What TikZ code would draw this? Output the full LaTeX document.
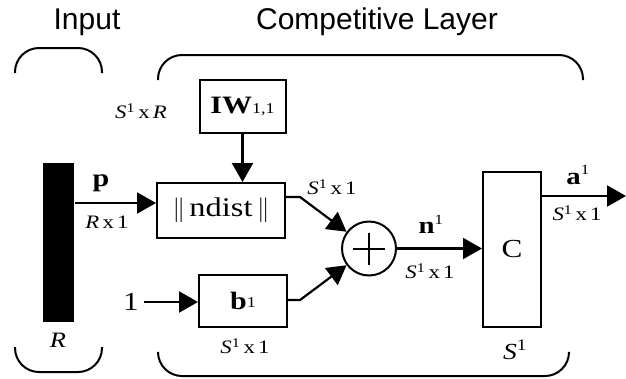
\documentclass[tikz,border=0pt]{standalone}
\usepackage{fontspec}
\setmainfont[FakeStretch=1.2]{Liberation Serif}
\newfontfamily\headfont{Liberation Sans}
\usetikzlibrary{arrows.meta}
\newcommand{\fsz}[1]{\fontsize{#1}{#1}\selectfont}
\newcommand{\Sone}{{\itshape S}\textsuperscript{1}}
\begin{document}
\begin{tikzpicture}[x=1pt,y=-1pt,line width=2pt,
  box/.style={draw,line width=2pt,inner sep=0pt},
  arr/.style={-{Triangle[length=19pt,width=21pt]},line width=2.2pt},
  brk/.style={line width=2pt,rounded corners=24pt},
  head/.style={font=\headfont\fsz{30}},
  dimlab/.style={font=\fsz{19},inner sep=0pt}]
\useasboundingbox (0,0) rectangle (626,378);
% headings
\node[head] (inp) at (87,22) {Input};
\node[head] (comp) at (377,22) {Competitive Layer};
% brackets
\draw[brk] (15,73) -- (15,48) -- (102,48) -- (102,73);
\draw[brk] (15,347) -- (15,372) -- (102,372) -- (102,347);
\draw[brk] (158,80) -- (158,55) -- (583,55) -- (583,80);
\draw[brk] (158,353) -- (158,376) -- (569,376) -- (569,353);
% blocks
\node[fill=black,inner sep=0pt,minimum width=31,minimum height=159] (bar) at (58.5,242.5) {};
\node[box,minimum width=128,minimum height=55,font=\fsz{27}] (nd) at (221,210.5) {$\|$\,ndist\,$\|$};
\node[box,minimum width=86,minimum height=53] (iw) at (242.5,106.5) {\fsz{25}\textbf{IW}{\fsz{15}1,1}};
\node[box,minimum width=88,minimum height=52] (b) at (243,301) {\fsz{25}\textbf{b}\raisebox{0.08em}{\fsz{15}1}};
\node[draw,circle,line width=2pt,minimum size=54,inner sep=0pt] (sum) at (369,248.5) {};
\draw[line width=2pt] (sum.center) ++(-16,0) -- ++(32,0);
\draw[line width=2pt] (sum.center) ++(0,-16) -- ++(0,32);
\node[box,minimum width=58,minimum height=155,font=\fsz{26}] (C) at (512,249.5) {C};
\node[font=\fsz{26},inner sep=0pt] (one) at (131,302) {1};
% coordinates
\coordinate (py) at (0,203);
\coordinate (k1) at (300,197);
\coordinate (k2) at (300,300);
\coordinate (out) at (626,196);
% connectors
\draw[arr] (bar.east |- py) -- (nd.west |- py);
\draw[arr] (iw.south) -- (iw.south |- nd.north);
\draw[arr] (one.east) ++(4,0) -- (b.west |- one.east);
\draw[arr] (nd.east |- k1) -- (k1) -- (sum);
\draw[arr] (b.east |- k2) -- (k2) -- (sum);
\draw[arr] (sum.east) -- (sum.east -| C.west);
\draw[arr] (C.east |- out) -- (out);
% labels
\node[font=\fsz{25}\bfseries] (lp) at (101,183) {p};
\node[dimlab] (lrx1) at (107,222) {{\itshape R}\,x\,1};
\node[dimlab] (lsxr) at (141,111) {\Sone\,x\,{\itshape R}};
\node[dimlab] (lnd) at (332,187) {\Sone\,x\,1};
\node[dimlab] (lb) at (245,346) {\Sone\,x\,1};
\node[font=\fsz{24}] (ln) at (431,224) {\textbf{n}\textsuperscript{\fsz{14}1}};
\node[dimlab] (lsum) at (430,271) {\Sone\,x\,1};
\node[font=\fsz{24}] (la) at (578,175) {\textbf{a}\textsuperscript{\fsz{14}1}};
\node[dimlab] (lout) at (577,213) {\Sone\,x\,1};
\node[font=\fsz{23}] (ls) at (515,350) {{\itshape S}\textsuperscript{1}};
\node[font=\fsz{22}\itshape] (lr) at (58,340) {R};
\end{tikzpicture}
\end{document}
